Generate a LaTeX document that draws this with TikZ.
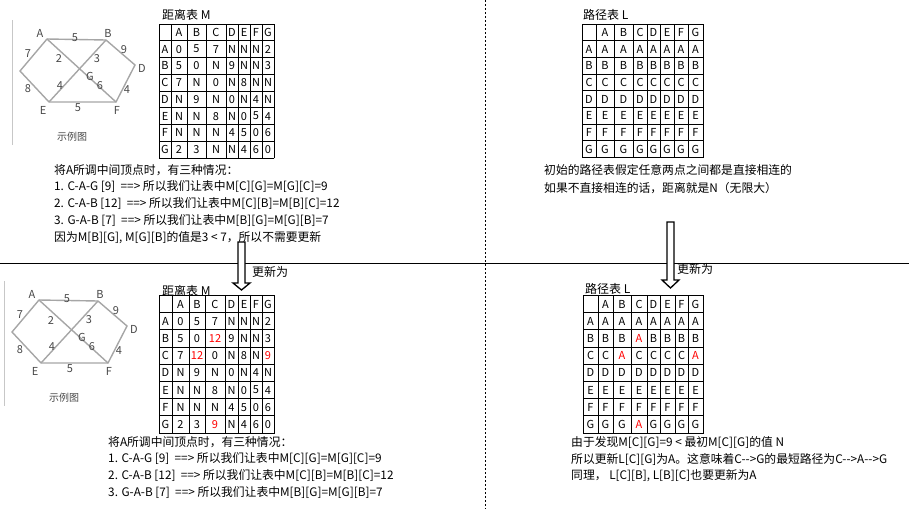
\documentclass[tikz,border=0pt]{standalone}
\usepackage{fontspec}
\setmainfont{Noto Sans CJK SC}[Ligatures=TeXOff]
\tikzstyle{edge}=[draw=black!35, line width=1.4pt]
\tikzstyle{framegray}=[draw=black!22, line width=0.8pt]
\tikzstyle{vname}=[font=\fontsize{11}{11}\selectfont, text=black!72, inner sep=0]
\tikzstyle{cell}=[font=\fontsize{11}{11}\selectfont, inner sep=0]
\tikzstyle{tableline}=[line width=0.9pt, line cap=rect]
\tikzstyle{tabtitle}=[font=\fontsize{12}{12}\selectfont, anchor=west, inner sep=0]
\tikzstyle{notetext}=[font=\fontsize{11.8}{12}\selectfont, anchor=west, inner sep=0]
\tikzstyle{hollow}=[draw, line width=1.3pt, fill=white, line join=miter]
\newcommand\redval[1]{\textcolor{red}{#1}}

% the sample graph, #1 = name prefix, shifted by (#2,#3)
\newcommand\samplegraph[3]{%
  \begin{scope}[shift={(#2,#3)}]
    \coordinate (#1A) at (47,39);
    \coordinate (#1B) at (106,40);
    \coordinate (#1D) at (135,65);
    \coordinate (#1F) at (116,102);
    \coordinate (#1E) at (49,102);
    \coordinate (#1C) at (20,71);
    \draw[framegray] (12,20) -- (12,145);
    \draw[edge] (#1A) -- (#1B) -- (#1D) -- (#1F) -- (#1E) -- (#1C) -- cycle;
    \draw[edge] (#1A) -- (#1F);
    \draw[edge] (#1B) -- (#1E);
    \foreach \t/\x/\y [count=\i] in {A/40/33, B/108/33, D/142/68, F/117/110, E/43/110, G/90/76}
      \node[vname] (#1v\i) at (\x,\y) {\t};
    \foreach \t/\x/\y [count=\i] in {5/75/38, 7/28/54, 2/59/59, 3/97/59, 9/124/50,
                                     8/28/89, 4/60/86, 6/100/86, 4/127/90, 5/78/108}
      \node[vname] (#1w\i) at (\x,\y) {\t};
    \node[vname, font=\fontsize{10}{10}\selectfont] (#1cap) at (72,137) {示例图};
  \end{scope}}

% table: name, column edges, top, row height, rows
\newcommand\drawtable[5]{%
  \foreach \row [count=\r] in #5 {
    \foreach \val [count=\c] in \row {
      \pgfmathsetmacro\xl{{#2}[\c-1]}
      \pgfmathsetmacro\xr{{#2}[\c]}
      \node[cell] (#1-\r-\c) at ({(\xl+\xr)/2},{#3+(\r-0.5)*#4}) {\val};
    }
  }
  \pgfmathsetmacro\xfirst{{#2}[0]}
  \pgfmathsetmacro\xlast{{#2}[8]}
  \foreach \k in {0,...,8}
    \draw[tableline] (\xfirst,{#3+\k*#4}) -- (\xlast,{#3+\k*#4});
  \foreach \xx in {#2}
    \draw[tableline] (\xx,#3) -- (\xx,{#3+8*#4});
}

\def\distrows{{{},A,B,C,D,E,F,G},{A,0,5,7,N,N,N,2},{B,5,0,N,9,N,N,3},{C,7,N,0,N,8,N,N},
  {D,N,9,N,0,N,4,N},{E,N,N,8,N,0,5,4},{F,N,N,N,4,5,0,6},{G,2,3,N,N,4,6,0}}
\def\distrowsnew{{{},A,B,C,D,E,F,G},{A,0,5,7,N,N,N,2},{B,5,0,\redval{12},9,N,N,3},
  {C,7,\redval{12},0,N,8,N,\redval{9}},{D,N,9,N,0,N,4,N},{E,N,N,8,N,0,5,4},
  {F,N,N,N,4,5,0,6},{G,2,3,\redval{9},N,4,6,0}}
\def\pathrows{{{},A,B,C,D,E,F,G},{A,A,A,A,A,A,A,A},{B,B,B,B,B,B,B,B},{C,C,C,C,C,C,C,C},
  {D,D,D,D,D,D,D,D},{E,E,E,E,E,E,E,E},{F,F,F,F,F,F,F,F},{G,G,G,G,G,G,G,G}}
\def\pathrowsnew{{{},A,B,C,D,E,F,G},{A,A,A,A,A,A,A,A},{B,B,B,\redval{A},B,B,B,B},
  {C,C,\redval{A},C,C,C,C,\redval{A}},{D,D,D,D,D,D,D,D},{E,E,E,E,E,E,E,E},
  {F,F,F,F,F,F,F,F},{G,G,G,\redval{A},G,G,G,G}}

\begin{document}
\begin{tikzpicture}[x=1pt, y=-1pt]
  \useasboundingbox (0,0) rectangle (909,509);

  % dividers
  \draw[line width=0.8pt, dash pattern=on 2pt off 2pt] (485,0) -- (485,509);
  \draw[line width=0.8pt] (0,263) -- (909,263);

  % before
  \samplegraph{g1}{0}{0}
  \node[tabtitle] (distTitle) at (162,15) {距离表 M};
  \drawtable{dist}{159,171,187,206,226,238,250,262,274}{24}{16.75}{\distrows}
  \foreach \txt [count=\i] in {将A所调中间顶点时，有三种情况：,
      1. C-A-G [9]\ \ ==> 所以我们让表中M[C][G]=M[G][C]=9,
      2. C-A-B [12]\ \ ==> 所以我们让表中M[C][B]=M[B][C]=12,
      3. G-A-B [7]\ \ ==> 所以我们让表中M[B][G]=M[G][B]=7,
      {因为M[B][G], M[G][B]的值是3 < 7，所以不需要更新}}
    \node[notetext] (stepA\i) at (54,{170+(\i-1)*17}) {\txt};

  \node[tabtitle] (pathTitle) at (583,15) {路径表 L};
  \drawtable{path}{582,596,614,633,647,660,674,688,703}{24}{16.7}{\pathrows}
  \foreach \txt [count=\i] in {初始的路径表假定任意两点之间都是直接相连的,
      如果不直接相连的话，距离就是N（无限大）}
    \node[notetext] (initL\i) at (544,{170+(\i-1)*18}) {\txt};

  % update arrows
  \draw[hollow] (238,242) -| (245,283) -- (250,283) -- (241.5,290) -- (233,283) -- (238,283) -- cycle;
  \node[tabtitle] (updM) at (252,272) {更新为};
  \draw[hollow] (667,222) -| (674,280) -- (679,280) -- (670.5,288) -- (662,280) -- (667,280) -- cycle;
  \node[tabtitle] (updL) at (677,269) {更新为};

  % after
  \samplegraph{g2}{-8}{261}
  \node[tabtitle] (distTitleNew) at (162,291) {距离表 M};
  \drawtable{distNew}{159,172,189,205,225,238,250,262,274}{295.5}{17.2}{\distrowsnew}
  \foreach \txt [count=\i] in {将A所调中间顶点时，有三种情况：,
      1. C-A-G [9]\ \ ==> 所以我们让表中M[C][G]=M[G][C]=9,
      2. C-A-B [12]\ \ ==> 所以我们让表中M[C][B]=M[B][C]=12,
      3. G-A-B [7]\ \ ==> 所以我们让表中M[B][G]=M[G][B]=7}
    \node[notetext] (stepB\i) at (108,{442+(\i-1)*17}) {\txt};

  \node[tabtitle] (pathTitleNew) at (585,289) {路径表 L};
  \drawtable{pathNew}{583,598,613,631,647,660,675,688,703}{295.5}{17.2}{\pathrowsnew}
  \foreach \txt [count=\i] in {由于发现M[C][G]=9 < 最初M[C][G]的值 N,
      所以更新L[C][G]为A。这意味着C-->G的最短路径为C-->A-->G,
      {同理， L[C][B], L[B][C]也要更新为A}}
    \node[notetext] (newL\i) at (571,{443+(\i-1)*16.5}) {\txt};
\end{tikzpicture}
\end{document}
